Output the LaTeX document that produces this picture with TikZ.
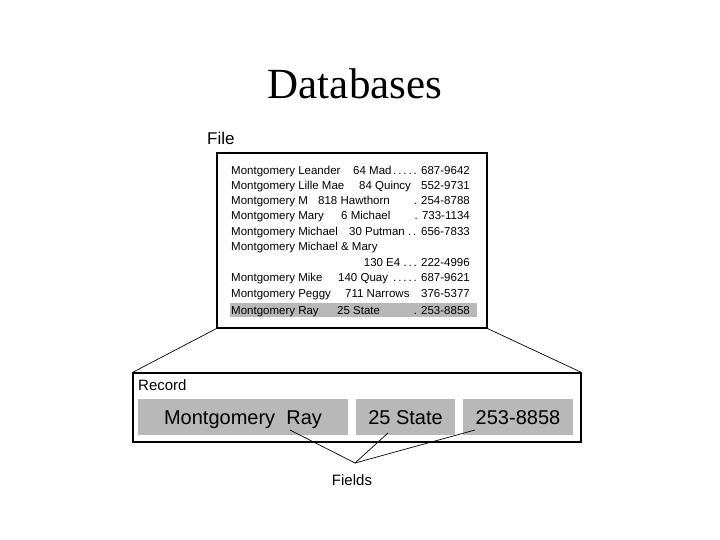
\documentclass[tikz,border=0pt]{standalone}
\usepackage{fontspec}
\setmainfont{Liberation Serif}
\setsansfont{Liberation Sans}
\usetikzlibrary{positioning}

\begin{document}
\begin{tikzpicture}[
  x=1pt, y=-1pt,
  box/.style={draw, line width=1.1pt, inner sep=0pt},
  rec/.style={inner sep=0pt, font=\fontsize{11.5}{13}\sffamily},
  lbl/.style={inner sep=0pt, font=\fontsize{15}{17}\sffamily},
  fld/.style={fill=black!28, inner sep=0pt, minimum height=36pt,
              text height=15pt, text depth=1pt,
              font=\fontsize{20}{22}\sffamily},
  ln/.style={line width=0.7pt}
]
  \useasboundingbox (0,0) rectangle (720,540);

  \node[font=\fontsize{43}{46}\selectfont] (title) at (355,84) {Databases};

  % file of records
  \node[lbl, font=\fontsize{17}{19}\sffamily, anchor=west] (filelbl) at (207,138) {File};
  \node[box, minimum width=270pt, minimum height=175pt] (file) at (352,240.5) {};
  \node[fill=black!28, inner sep=0pt, minimum width=247pt, minimum height=14pt]
    (hilite) at (353.5,310) {};

  \node[rec, anchor=base west] (r1a) at (231,175) {Montgomery Leander};
  \node[rec, anchor=base west] (r1b) at (353,175) {64 Mad};
  \node[rec, anchor=base west] (r1c) at (393,175) {.\,.\,.\,.\,.};
  \node[rec, anchor=base east] (r1d) at (470,175) {687-9642};

  \node[rec, anchor=base west] (r2a) at (231,190) {Montgomery Lille Mae};
  \node[rec, anchor=base west] (r2b) at (359,190) {84 Quincy};
  \node[rec, anchor=base east] (r2d) at (470,190) {552-9731};

  \node[rec, anchor=base west] (r3a) at (231,205) {Montgomery M};
  \node[rec, anchor=base west] (r3b) at (318,205) {818 Hawthorn};
  \node[rec, anchor=base east] (r3d) at (470,205) {. 254-8788};

  \node[rec, anchor=base west] (r4a) at (231,220) {Montgomery Mary};
  \node[rec, anchor=base west] (r4b) at (341,220) {6 Michael};
  \node[rec, anchor=base east] (r4d) at (470,220) {. 733-1134};

  \node[rec, anchor=base west] (r5a) at (231,236) {Montgomery Michael};
  \node[rec, anchor=base west] (r5b) at (349,236) {30 Putman .\,.};
  \node[rec, anchor=base east] (r5d) at (470,236) {656-7833};

  \node[rec, anchor=base west] (r6a) at (231,251) {Montgomery Michael \& Mary};
  \node[rec, anchor=base east] (r7d) at (470,266) {130 E4 .\,.\,. 222-4996};

  \node[rec, anchor=base west] (r8a) at (231,281) {Montgomery Mike};
  \node[rec, anchor=base west] (r8b) at (338,281) {140 Quay};
  \node[rec, anchor=base west] (r8c) at (393,281) {.\,.\,.\,.\,.};
  \node[rec, anchor=base east] (r8d) at (470,281) {687-9621};

  \node[rec, anchor=base west] (r9a) at (231,297) {Montgomery Peggy};
  \node[rec, anchor=base west] (r9b) at (345,297) {711 Narrows};
  \node[rec, anchor=base east] (r9d) at (470,297) {376-5377};

  \node[rec, anchor=base west] (r10a) at (231,314) {Montgomery Ray};
  \node[rec, anchor=base west] (r10b) at (337,314) {25 State};
  \node[rec, anchor=base east] (r10d) at (470,314) {. 253-8858};

  % one record, split into fields
  \node[box, minimum width=448pt, minimum height=69pt] (record) at (357,407.5) {};
  \node[lbl, anchor=west] (reclbl) at (138,385) {Record};
  \node[fld, minimum width=210pt] (fname) at (243,417) {Montgomery\ \ Ray};
  \node[fld, minimum width=99pt]  (faddr) at (405.5,417) {25 State};
  \node[fld, minimum width=110pt] (fphone) at (518,417) {253-8858};

  \node[lbl] (fields) at (352,480) {Fields};
  \coordinate (meet) at (355,463);
  \coordinate (pname) at (290,430);
  \coordinate (paddr) at (388,433);
  \coordinate (pphone) at (475,430);

  \draw[ln] (file.south west)--(record.north west);
  \draw[ln] (file.south east)--(record.north east);
  \draw[ln] (pname)--(meet);
  \draw[ln] (paddr)--(meet);
  \draw[ln] (pphone)--(meet);
\end{tikzpicture}
\end{document}
